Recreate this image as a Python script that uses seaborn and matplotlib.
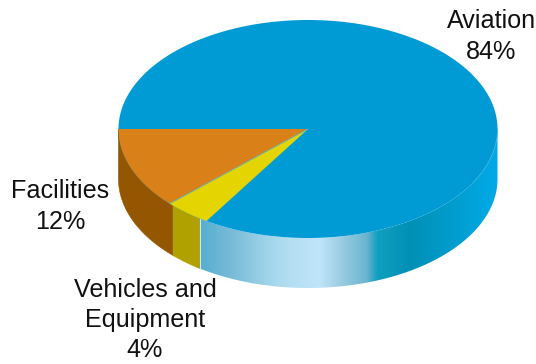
import numpy as np
import matplotlib
matplotlib.use("Agg")
import matplotlib.pyplot as plt
import seaborn as sns

# Budget shares, drawn counter-clockwise on screen from the left edge of the disc
categories = ["Facilities", "Vehicles and\nEquipment", "Aviation"]
shares = [12, 4, 84]
top_colors = ["#da8019", "#e4d500", "#009bd5"]
side_colors = ["#945600", "#b0a000", None]

# Shading along the rim of the largest slice, left to right
rim_stops = [0.0, 0.11, 0.225, 0.30, 0.40, 0.45, 0.56, 0.595, 0.707, 0.84, 1.0]
rim_colors = ["#55aed1", "#7abcd8", "#a0d4ea", "#b4def2", "#bfe5fa", "#a8d4e8", "#6ab4d0",
              "#12a0c0", "#0090b5", "#009ccc", "#00aae8"]

sns.set_theme(style="white")
plt.rcParams["font.family"] = ["Liberation Sans", "DejaVu Sans"]

fig, ax = plt.subplots(figsize=(5.36, 3.64), dpi=100)
fig.subplots_adjust(0, 0, 1, 1)
ax.set_xlim(0, 536)
ax.set_ylim(364, 0)
ax.axis("off")

cx, cy, rx, ry, depth = 308, 129, 189.5, 109, 50
# The wall seams sit a touch off the top-face seams, in degrees
wall_shift = [0.0, -1.4, 2.3, 0.0]


def rim(t):
    return cx + rx * np.cos(t), cy + ry * np.sin(t)


edges = np.radians(180 - 3.6 * np.cumsum([0] + shares))
wall_edges = edges + np.radians(wall_shift)

# Thin sliver of the blue rim showing at the far left
ax.plot([cx - rx + 0.3, cx - rx + 0.3], [cy, cy + depth], color="#009bd5", lw=1, zorder=1)

# Rim walls of the front-facing slices
for i, (start, stop) in enumerate(zip(wall_edges[:-1], wall_edges[1:])):
    stop = max(stop, 0.0)
    t = np.linspace(start, stop, 200)
    x, y = rim(t)
    xs = np.r_[x, x[::-1]]
    ys = np.r_[y, y[::-1] + depth]
    if side_colors[i] is not None:
        ax.fill(xs, ys, color=side_colors[i], lw=0.4, zorder=2)
    else:
        poly = ax.fill(xs, ys, color="none", lw=0, zorder=2)[0]
        left, right = x.min(), x.max()
        pos = np.linspace(0, 1, 400)
        palette = np.array(sns.color_palette(rim_colors))
        rgb = np.array([np.interp(pos, rim_stops, palette[:, k]) for k in range(3)]).T[None, :, :]
        img = ax.imshow(rgb, extent=(left, right, cy + ry + depth, cy - 5), aspect="auto",
                        interpolation="bilinear", zorder=2)
        img.set_clip_path(poly)
        ax.plot([left, left], [y[0], y[0] + depth], color="#cfe8f2", lw=0.8, zorder=3)

ax.set_xlim(0, 536)
ax.set_ylim(364, 0)

# Top face: whole disc, then the small slices over it
theta = np.linspace(0, 2 * np.pi, 720)
ex, ey = rim(theta)
ax.fill(ex, ey, color=top_colors[2], lw=0, zorder=4)
for i in range(2):
    t = np.linspace(edges[i], edges[i + 1], 100)
    x, y = rim(t)
    ax.fill(np.r_[cx, x], np.r_[cy, y], color=top_colors[i], lw=0, zorder=5)

# Fine seam between the two small slices, and the lit front rim on the right
sx, sy = rim(edges[1])
ax.plot([cx, sx], [cy, sy], color="#5fb9c4", lw=0.6, zorder=6)
ax.plot(ex[:60], ey[:60], color="#35b4e2", lw=0.6, zorder=6)

# Category labels; the three-line label runs slightly tighter to stay inside the figure
label_pos = [(60, 206.5), (145, 320), (491.5, 36.5)]
label_spacing = [1.38, 1.3, 1.38]
for name, share, (lx, ly), gap in zip(categories, shares, label_pos, label_spacing):
    ax.text(lx, ly, f"{name}\n{share}%", ha="center", va="center", fontsize=18.1,
            color="#111111", linespacing=gap, zorder=7)

fig.savefig("out.png", dpi=100)
